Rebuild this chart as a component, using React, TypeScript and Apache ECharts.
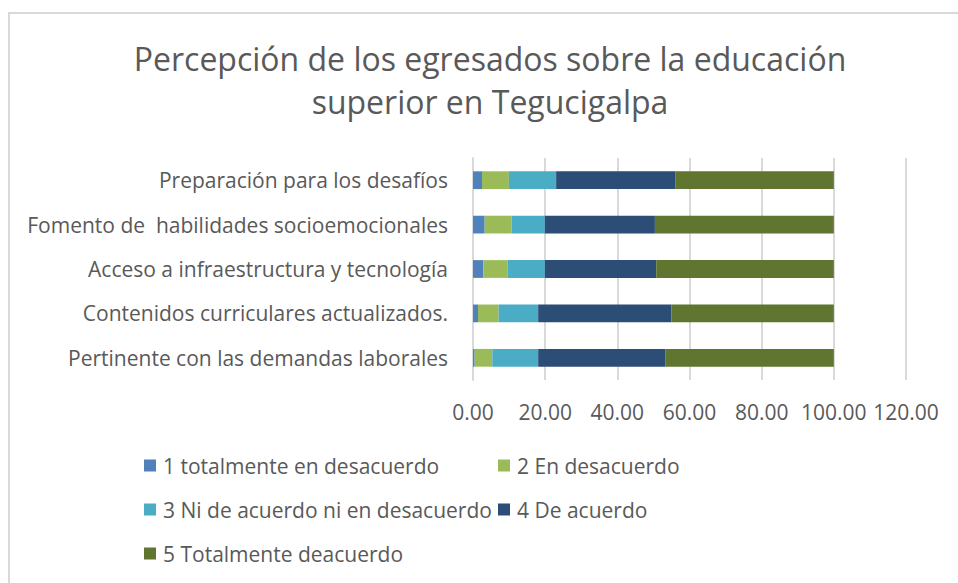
import React, { useEffect, useRef } from "react";
import * as echarts from "echarts";

const categories = [
  "Pertinente con las demandas laborales",
  "Contenidos curriculares actualizados.",
  "Acceso a infraestructura y tecnología",
  "Fomento de  habilidades socioemocionales",
  "Preparación para los desafíos",
];
const seriesNames = [
  "1 totalmente en desacuerdo",
  "2 En desacuerdo",
  "3 Ni de acuerdo ni en desacuerdo",
  "4 De acuerdo",
  "5 Totalmente deacuerdo",
];
const s1 = [0.46, 1.38, 2.86, 3.23, 2.49];
const s2 = [4.89, 5.72, 6.73, 7.46, 7.46];
const s3 = [12.71, 10.96, 10.32, 9.22, 13.09];
const s4 = [35.21, 36.96, 30.87, 30.5, 33.0];
const s5 = [46.73, 44.98, 49.22, 49.59, 43.96];
const colors = ["#4f81bd", "#9bbb59", "#4bacc6", "#2c4d75", "#5f7530"];
const titleLines = ["Percepción de los egresados sobre la educación", "superior en Tegucigalpa"];

const FONT = "'Open Sans', sans-serif";
const TXT = "#595959";

export default function App() {
  const ref = useRef<HTMLDivElement>(null);
  useEffect(() => {
    const chart = echarts.init(ref.current!, null, { renderer: "svg" });
    const values = [s1, s2, s3, s4, s5];
    const legendPos = [
      { left: 144, top: 455 },
      { left: 498, top: 455 },
      { left: 144, top: 499 },
      { left: 498, top: 499 },
      { left: 144, top: 543 },
    ];
    chart.setOption({
      animation: false,
      color: colors,
      textStyle: { fontFamily: FONT, color: TXT },
      graphic: [
        {
          type: "rect",
          shape: { x: 9, y: 13, width: 980, height: 620 },
          style: { fill: "none", stroke: "#d9d9d9", lineWidth: 2 },
          silent: true,
        },
        ...titleLines.map((t, i) => ({
          type: "text",
          x: 490,
          y: 58 + i * 43,
          style: {
            text: t,
            fill: TXT,
            font: `32px ${FONT}`,
            textAlign: "center",
            textVerticalAlign: "middle",
          },
        })),
      ],
      legend: seriesNames.map((n, i) => ({
        data: [n],
        left: legendPos[i].left,
        top: legendPos[i].top,
        padding: 0,
        itemWidth: 12,
        itemHeight: 12,
        icon: "rect",
        selectedMode: false,
        textStyle: { fontSize: 21, color: TXT, fontFamily: FONT, padding: [0, 0, 0, 2] },
      })),
      grid: { left: 473, right: 52, top: 158, bottom: 203, containLabel: false },
      xAxis: {
        type: "value",
        min: 0,
        max: 120,
        interval: 20,
        axisLine: { show: false },
        axisTick: { show: false },
        splitLine: { lineStyle: { color: "#d9d9d9", width: 2 } },
        axisLabel: {
          fontSize: 21,
          color: TXT,
          fontFamily: FONT,
          margin: 21,
          formatter: (v: number) => v.toFixed(2),
        },
      },
      yAxis: {
        type: "category",
        data: categories,
        axisLine: { show: true, lineStyle: { color: "#d9d9d9", width: 2 } },
        axisTick: { show: false },
        axisLabel: { fontSize: 21, color: TXT, fontFamily: FONT, margin: 25 },
      },
      series: seriesNames.map((n, i) => ({
        name: n,
        type: "bar",
        stack: "total",
        barWidth: "40%",
        data: values[i],
        itemStyle: { color: colors[i] },
      })),
    });
    return () => chart.dispose();
  }, []);
  return (
    <div
      ref={ref}
      style={{ position: "fixed", left: 0, top: 0, width: 958, height: 583, background: "#fff" }}
    />
  );
}
